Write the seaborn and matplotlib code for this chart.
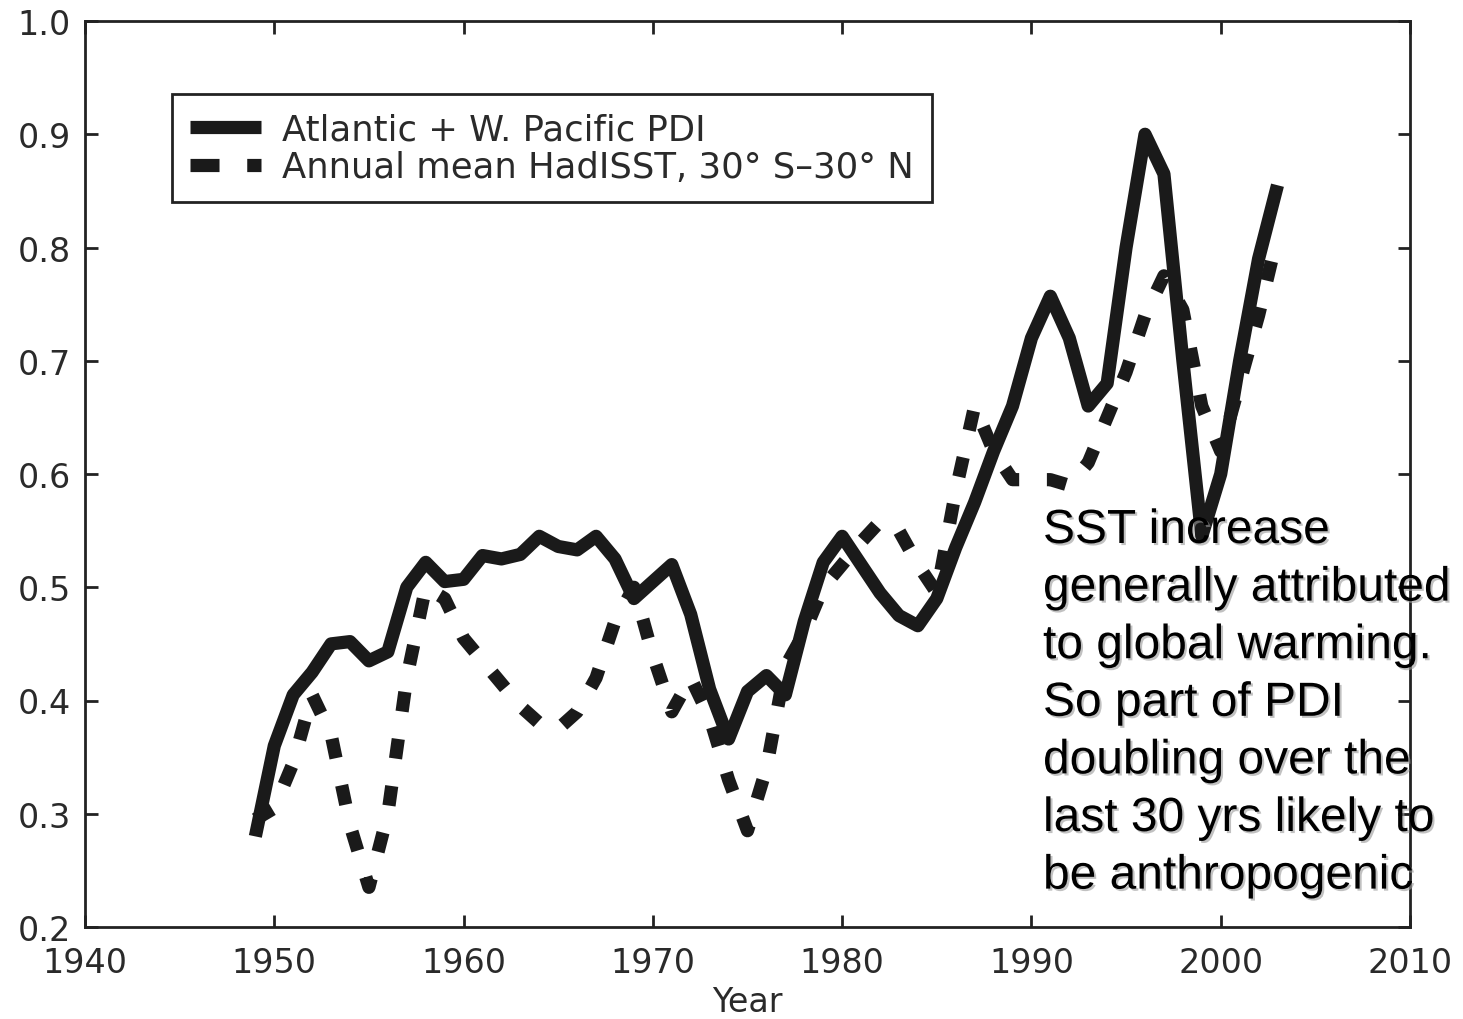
import numpy as np
import pandas as pd
import matplotlib
matplotlib.use("Agg")
import matplotlib.pyplot as plt
import matplotlib.patheffects as pe
from matplotlib.lines import Line2D
import seaborn as sns

years = list(range(1949, 2004))
pdi = [0.28, 0.36, 0.405, 0.425, 0.45, 0.452, 0.435, 0.443, 0.50, 0.522,
       0.505, 0.507, 0.528, 0.525, 0.529, 0.545, 0.536, 0.533, 0.545, 0.525,
       0.49, 0.505, 0.52, 0.476, 0.41, 0.366, 0.408, 0.422, 0.405, 0.47,
       0.522, 0.545, 0.52, 0.495, 0.475, 0.466, 0.49, 0.535, 0.575, 0.62,
       0.66, 0.72, 0.757, 0.72, 0.66, 0.68, 0.80, 0.90, 0.865, 0.70,
       0.545, 0.60, 0.70, 0.79, 0.855]
sst = [0.295, 0.305, 0.345, 0.405, 0.37, 0.29, 0.235, 0.30, 0.42, 0.50,
       0.49, 0.455, 0.435, 0.415, 0.395, 0.38, 0.375, 0.39, 0.42, 0.47,
       0.50, 0.44, 0.39, 0.42, 0.385, 0.33, 0.285, 0.34, 0.43, 0.46,
       0.50, 0.52, 0.54, 0.558, 0.55, 0.52, 0.495, 0.585, 0.66, 0.62,
       0.595, 0.595, 0.595, 0.59, 0.61, 0.65, 0.69, 0.74, 0.775, 0.745,
       0.66, 0.62, 0.68, 0.74, 0.81]

label_pdi = "Atlantic + W. Pacific PDI"
label_sst = "Annual mean HadISST, 30\u00b0 S\u201330\u00b0 N"
xticks = [1940, 1950, 1960, 1970, 1980, 1990, 2000, 2010]
yticks = [0.2, 0.3, 0.4, 0.5, 0.6, 0.7, 0.8, 0.9, 1.0]
annotation = ("SST increase\ngenerally attributed\nto global warming.\n"
              "So part of PDI\ndoubling over the\nlast 30 yrs likely to\n"
              "be anthropogenic")

df = pd.DataFrame({
    "Year": years * 2,
    "value": pdi + sst,
    "series": [label_pdi] * len(years) + [label_sst] * len(years),
})

sns.set_style("ticks")
plt.rcParams["font.family"] = ["DejaVu Sans"]

fig = plt.figure(figsize=(14.63, 10.20), dpi=100)
ax = fig.add_axes([85 / 1463, 1 - 928 / 1020, (1410 - 85) / 1463, (928 - 22) / 1020])

sns.lineplot(data=df, x="Year", y="value", style="series",
             dashes={label_pdi: "", label_sst: (1.5, 2.1)},
             color="#1a1a1a", linewidth=9.5, ax=ax, legend=False)
for ln in ax.get_lines():
    ln.set_solid_capstyle("butt")
    ln.set_dash_capstyle("butt")
    ln.set_solid_joinstyle("round")

ax.set_xlim(1940, 2010)
ax.set_ylim(0.2, 1.0)
ax.set_xticks(xticks)
ax.set_xticklabels([str(t) for t in xticks])
ax.set_yticks(yticks)
ax.set_yticklabels([f"{t:.1f}" for t in yticks])
ax.tick_params(direction="in", length=9, width=2, top=True, right=True,
               labelsize=24, labelcolor="#2a2a2a", color="#222222")
ax.tick_params(axis="x", pad=14)
ax.tick_params(axis="y", pad=10)
ax.set_xlabel("Year", fontsize=24, color="#2a2a2a", labelpad=4)
ax.set_ylabel("")
for s in ax.spines.values():
    s.set_linewidth(2)
    s.set_color("#222222")

handles = [
    Line2D([], [], color="#1a1a1a", linewidth=9.5, solid_capstyle="butt"),
    Line2D([], [], color="#1a1a1a", linewidth=9.5, dashes=(2.2, 2.1), dash_capstyle="butt"),
]
leg = ax.legend(handles, [label_pdi, label_sst], loc="upper left",
                bbox_to_anchor=(0.066, 0.919), borderaxespad=0, fontsize=25.5,
                frameon=True, fancybox=False, handlelength=2.0,
                handletextpad=0.6, borderpad=0.5, labelspacing=0.12,
                labelcolor="#2a2a2a")
leg.get_frame().set_edgecolor("#222222")
leg.get_frame().set_linewidth(2)
leg.get_frame().set_alpha(1)

fig.text(1043 / 1463, 1 - 509 / 1020, annotation, fontsize=34.5,
         color="black", va="top", ha="left", linespacing=1.36,
         family=["Liberation Sans", "DejaVu Sans"],
         path_effects=[pe.withSimplePatchShadow(offset=(1.5, -1.5), shadow_rgbFace="#999999", alpha=0.6)])

fig.savefig("out.png", dpi=100)
